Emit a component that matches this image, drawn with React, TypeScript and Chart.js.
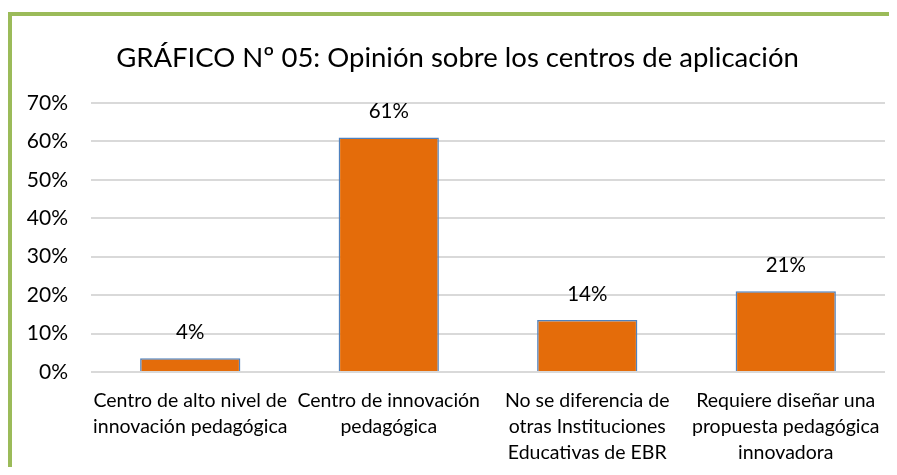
import React, { useEffect, useRef } from 'react';
import { Chart, registerables } from 'chart.js';

Chart.register(...registerables);

const chartTitle = 'GRÁFICO Nº 05: Opinión sobre los centros de aplicación';
const categories: string[][] = [
  ['Centro de alto nivel de', 'innovación pedagógica'],
  ['Centro de innovación', 'pedagógica'],
  ['No se diferencia de', 'otras Instituciones', 'Educativas de EBR'],
  ['Requiere diseñar una', 'propuesta pedagógica', 'innovadora'],
];
const values = [3.6, 61, 13.5, 21];
const valueLabels = ['4%', '61%', '14%', '21%'];
const yMin = 0;
const yMax = 70;
const yStep = 10;

const FONT = 'Lato';

const labelPlugin = {
  id: 'valueLabels',
  afterLayout(chart: any) {
    // nudge the title box so its centre sits slightly right, as in the original
    if (chart.titleBlock) chart.titleBlock.left += 18;
  },
  afterDatasetsDraw(chart: any) {
    const meta = chart.getDatasetMeta(0);
    const ctx = chart.ctx;
    ctx.save();
    ctx.font = `20.5px ${FONT}`;
    ctx.fillStyle = '#000';
    ctx.textAlign = 'center';
    ctx.textBaseline = 'middle';
    meta.data.forEach((bar: any, i: number) => {
      ctx.fillText(valueLabels[i], bar.x, bar.y - 26);
    });
    ctx.restore();
  },
};

export default function App() {
  const ref = useRef<HTMLCanvasElement | null>(null);

  useEffect(() => {
    if (!ref.current) return;
    const chart = new Chart(ref.current, {
      type: 'bar',
      data: {
        labels: categories,
        datasets: [
          {
            data: values,
            backgroundColor: '#E46C0A',
            borderColor: '#4F81BD',
            borderWidth: 1.5,
            barPercentage: 0.505,
            categoryPercentage: 1,
          },
        ],
      },
      options: {
        animation: false,
        responsive: false,
        layout: { padding: { left: 0, right: 4, top: 0, bottom: 0 } },
        plugins: {
          legend: { display: false },
          tooltip: { enabled: false },
          title: {
            display: true,
            text: chartTitle,
            color: '#000',
            font: { family: FONT, size: 27.5, weight: 'normal', lineHeight: 1.2 },
            padding: { top: 25.5, bottom: 28.5 },
          },
        },
        scales: {
          x: {
            grid: { display: false },
            border: { display: false },
            ticks: {
              color: '#000',
              font: { family: FONT, size: 19.5, lineHeight: '26px' },
              padding: 8,
              maxRotation: 0,
              autoSkip: false,
            },
            afterFit(scale: any) {
              scale.height = 95;
            },
          },
          y: {
            min: yMin,
            max: yMax,
            grid: { color: '#D9D9D9', lineWidth: 2, drawTicks: false },
            border: { display: false },
            ticks: {
              stepSize: yStep,
              color: '#000',
              font: { family: FONT, size: 21 },
              padding: 23,
              callback: (v: any) => `${v}%`,
            },
            afterFit(scale: any) {
              scale.width = 79;
            },
          },
        },
      },
      plugins: [labelPlugin],
    });
    return () => chart.destroy();
  }, []);

  return (
    <div style={{ paddingTop: 4 }}>
      <div
        style={{
          borderTop: '4px solid #9BBB59',
          borderLeft: '4px solid #9BBB59',
          width: 877,
          height: 451,
          background: '#fff',
        }}
      >
        <canvas ref={ref} width={877} height={451} style={{ display: 'block', width: 877, height: 451 }} />
      </div>
    </div>
  );
}
